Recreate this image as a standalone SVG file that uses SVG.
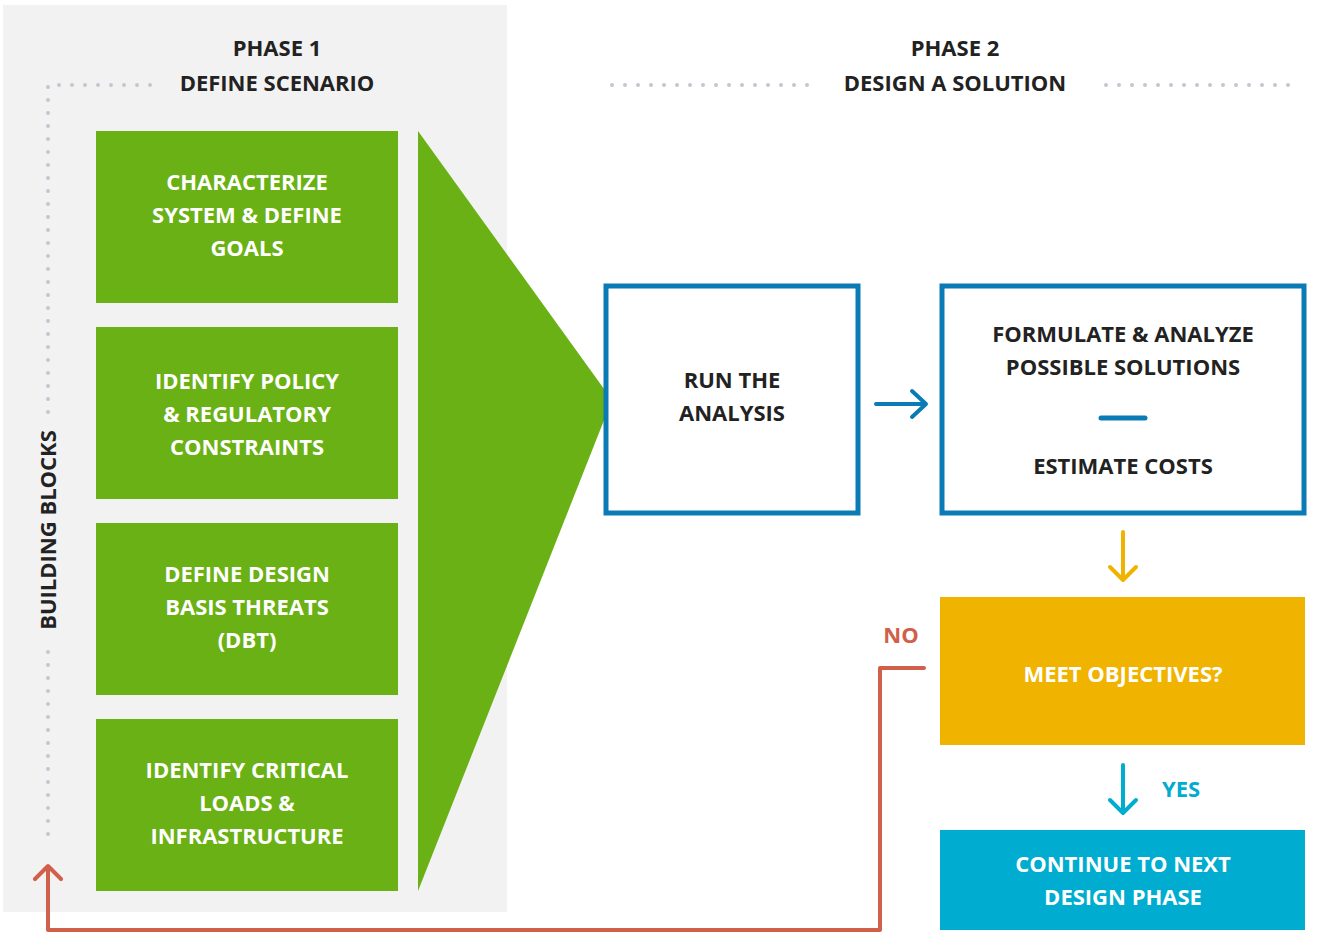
<svg xmlns="http://www.w3.org/2000/svg" width="1332" height="948" viewBox="0 0 1332 948">
<style>
text{font-family:"Open Sans","Liberation Sans",sans-serif;font-weight:bold;font-size:22px;text-anchor:middle}
.w{fill:#fff}.d{fill:#222}
.dot{stroke:#c3c7d1;stroke-width:4;stroke-linecap:round;stroke-dasharray:0 13;fill:none}
.g{fill:#6ab115}
.bx{fill:#fff;stroke:#0a7bb5;stroke-width:5}
</style>
<rect x="3" y="5" width="504" height="907" fill="#f2f2f2"/>
<g id="dots">
<path class="dot" d="M150 85H48V415"/>
<path class="dot" d="M48 652V842"/>
<path class="dot" d="M612 85H808M1106 85H1300"/>
</g>
<text class="d" x="277" y="56">PHASE 1</text>
<text class="d" x="277" y="91">DEFINE SCENARIO</text>
<text class="d" x="955" y="56">PHASE 2</text>
<text class="d" x="955" y="91">DESIGN A SOLUTION</text>
<text class="d" transform="translate(56 530) rotate(-90)">BUILDING BLOCKS</text>
<polygon id="funnel" class="g" points="418,131 612,400 418,891"/>
<g id="b1"><rect class="g" x="96" y="131" width="302" height="172"/><text class="w" x="247" y="190">CHARACTERIZE</text><text class="w" x="247" y="223">SYSTEM &amp; DEFINE</text><text class="w" x="247" y="256">GOALS</text></g>
<g id="b2"><rect class="g" x="96" y="327" width="302" height="172"/><text class="w" x="247" y="389">IDENTIFY POLICY</text><text class="w" x="247" y="422">&amp; REGULATORY</text><text class="w" x="247" y="455">CONSTRAINTS</text></g>
<g id="b3"><rect class="g" x="96" y="523" width="302" height="172"/><text class="w" x="247" y="582">DEFINE DESIGN</text><text class="w" x="247" y="615">BASIS THREATS</text><text class="w" x="247" y="648">(DBT)</text></g>
<g id="b4"><rect class="g" x="96" y="719" width="302" height="172"/><text class="w" x="247" y="778">IDENTIFY CRITICAL</text><text class="w" x="247" y="811">LOADS &amp;</text><text class="w" x="247" y="844">INFRASTRUCTURE</text></g>
<g id="run"><rect class="bx" x="606" y="286" width="252" height="227"/><text class="d" x="732" y="388">RUN THE</text><text class="d" x="732" y="421">ANALYSIS</text></g>
<g id="form"><rect class="bx" x="942" y="286" width="362" height="227"/><text class="d" x="1123" y="342">FORMULATE &amp; ANALYZE</text><text class="d" x="1123" y="375">POSSIBLE SOLUTIONS</text><line x1="1101" y1="418" x2="1145" y2="418" stroke="#0a7bb5" stroke-width="5" stroke-linecap="round"/><text class="d" x="1123" y="474">ESTIMATE COSTS</text></g>
<g id="meet"><rect x="940" y="597" width="365" height="148" fill="#f0b400"/><text class="w" x="1123" y="682">MEET OBJECTIVES?</text></g>
<g id="cont"><rect x="940" y="830" width="365" height="100" fill="#00acd0"/><text class="w" x="1123" y="872">CONTINUE TO NEXT</text><text class="w" x="1123" y="905">DESIGN PHASE</text></g>
<g id="connectors" fill="none" stroke-width="4" stroke-linecap="round" stroke-linejoin="round">
<path d="M876 404H925M912 391L926 404L912 417" stroke="#0a7bb5"/>
<path d="M1123 532V580M1110 567L1123 580L1136 567" stroke="#f0b400"/>
<path d="M1123 765V813M1110 800L1123 813L1136 800" stroke="#00acd0"/>
<path d="M924 668H880V930H48V866M35 879L48 866L61 879" stroke="#d0604a"/>
</g>
<text x="901" y="643" fill="#d0604a">NO</text>
<text x="1181" y="797" fill="#00acd0">YES</text>
</svg>
